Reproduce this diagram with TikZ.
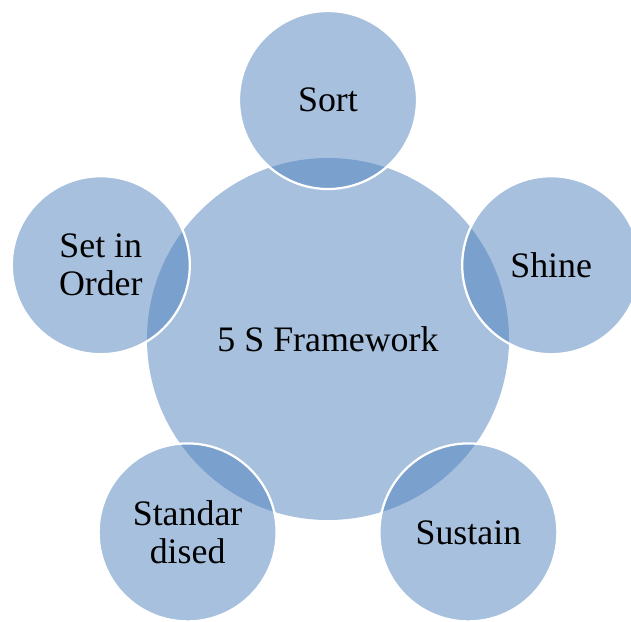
\documentclass[tikz,border=0pt]{standalone}
\usepackage{fontspec}
\setmainfont{Liberation Serif}
\definecolor{officeblue}{HTML}{4F81BD}
\usetikzlibrary{positioning}

\begin{document}
\begin{tikzpicture}[every node/.style={font=\fontsize{25.5}{27}\selectfont}]
        \tikzset{
          hub/.style={circle, fill=officeblue, fill opacity=0.5,
                      text opacity=1, minimum size=9.05cm, inner sep=0pt},
          petal/.style={circle, fill=officeblue, fill opacity=0.5,
                        draw=white, draw opacity=1, line width=1.6pt,
                        text opacity=1, align=center,
                        minimum size=4.45cm, inner sep=0pt}
        }
        \useasboundingbox (0, 0) rectangle (15.775, -15.525);
        \clip (0, 0) rectangle (15.775, -15.525);

        \node[hub] (main) at (8.2, -8.475) {5 S Framework};

        % the five S around the hub
        \node[petal] (sort)     at (8.2, -2.5)      {Sort};
        \node[petal] (shine)    at (13.78, -6.63)   {Shine};
        \node[petal] (sustain)  at (11.71, -13.31)  {Sustain};
        \node[petal] (standard) at (4.69, -13.31)   {Standar\\dised};
        \node[petal] (order)    at (2.52, -6.63)    {Set in\\Order};
      \end{tikzpicture}
\end{document}
